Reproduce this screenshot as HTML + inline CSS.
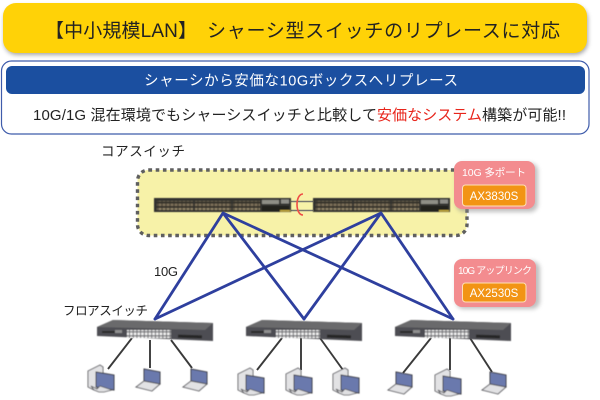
<!DOCTYPE html>
<html lang="ja"><head><meta charset="utf-8"><title>シャーシ型スイッチのリプレース</title>
<style>html,body{margin:0;padding:0;background:#fff}svg{display:block}
text{font-family:"Liberation Sans","Noto Sans CJK JP",sans-serif}</style></head>
<body>
<svg width="600" height="400" viewBox="0 0 600 400" xmlns="http://www.w3.org/2000/svg">
<defs>
<filter id="sh" x="-10%" y="-20%" width="125%" height="150%"><feGaussianBlur stdDeviation="2"/></filter>
<filter id="b" x="-5%" y="-5%" width="110%" height="110%"><feGaussianBlur stdDeviation="0.4"/></filter>
<pattern id="core" width="4" height="9" patternUnits="userSpaceOnUse">
<rect width="4" height="9" fill="#35322b"/>
<rect x="0.5" y="1" width="3" height="2.4" fill="#8f8266"/>
<rect x="0.5" y="5.6" width="3" height="2.4" fill="#7d7058"/>
</pattern>
<pattern id="fl" width="3.7" height="4" patternUnits="userSpaceOnUse">
<rect width="3.7" height="4" fill="#6a6a6e"/>
<rect x="0.5" y="0.5" width="2.7" height="2.8" fill="#f0f0f0"/>
</pattern>
<g id="coreSw" filter="url(#b)">
<rect x="0" y="0" width="137" height="14" fill="#33322e"/>
<rect x="3" y="3" width="36" height="9" fill="url(#core)"/>
<rect x="41" y="3" width="36" height="9" fill="url(#core)"/>
<rect x="79" y="3" width="27" height="9" fill="url(#core)"/>
<rect x="108" y="2" width="17" height="4" fill="#8f8f86"/>
<rect x="127" y="1.5" width="8" height="4" fill="#8e8e88"/>
<rect x="108" y="8" width="27" height="5" fill="#24241f"/>
<rect x="126" y="12" width="10" height="1.5" fill="#c6ac3c"/>
</g>
<g id="flSw" filter="url(#b)">
<polygon points="113,320 213,323 213,341 97,336 97,327" fill="#4e4e52"/>
<polygon points="113,320 213,323 205,330 97,327" fill="#6a6a6c"/>
<rect x="127" y="330" width="44" height="8" fill="url(#fl)"/>
<rect x="102" y="331" width="14" height="2" fill="#2a2a2a"/>
<rect x="178" y="335" width="24" height="3" fill="#262626" transform="rotate(2 190 336)"/>
<rect x="115" y="330" width="7" height="3" fill="#8f8f8f"/>
</g>
<g id="desk" filter="url(#b)">
<polygon points="0,6 12,0 15,2 15,20 6,25 0,22" fill="#e2e2e4" stroke="#55555a" stroke-width="0.9"/>
<polygon points="8,7 26,10 26,25 8,22" fill="#6a79ad" stroke="#3c3c42" stroke-width="1"/>
<polygon points="3,21 9,24 12,21 24,25 16,27 11,27 6,25" fill="#e0e0e2" stroke="#55555a" stroke-width="0.8"/>
</g>
<g id="lap" filter="url(#b)">
<polygon points="8,0 24,3 24,15 8,12" fill="#6a79ad" stroke="#3c3c42" stroke-width="1"/>
<polygon points="8,12 24,15 16,22 0,18" fill="#e2e2e4" stroke="#55555a" stroke-width="0.9"/>
</g>
</defs>

<!-- title -->
<rect x="4" y="6" width="584" height="49" rx="13" fill="#8a8a8a" opacity=".75" filter="url(#sh)"/>
<rect x="3" y="3" width="584" height="50" rx="13" fill="#ffd207"/>
<text x="45" y="37" font-size="19" fill="#222" textLength="152" lengthAdjust="spacing">【中小規模LAN】</text>
<text x="207" y="37" font-size="19" fill="#222" textLength="353" lengthAdjust="spacing">シャーシ型スイッチのリプレースに対応</text>

<!-- outline box -->
<rect x="1.5" y="61" width="587.5" height="73" rx="10" fill="#fff" stroke="#3f5cab" stroke-width="1.2"/>
<rect x="6" y="66" width="579" height="28" rx="6" fill="#1b4fa0"/>
<text x="144" y="85.5" font-size="14.5" fill="#fff" textLength="314" lengthAdjust="spacing">シャーシから安価な10Gボックスへリプレース</text>
<text x="33" y="120" font-size="15" fill="#222" textLength="344" lengthAdjust="spacing">10G/1G 混在環境でもシャーシスイッチと比較して</text>
<text x="377" y="120" font-size="15" fill="#e8251b" textLength="105" lengthAdjust="spacing">安価なシステム</text>
<text x="482" y="120" font-size="15" fill="#222" textLength="84" lengthAdjust="spacing">構築が可能!!</text>

<!-- core area -->
<rect x="137.5" y="170" width="329.5" height="65.5" rx="11" fill="#f7f2a8" stroke="#5f5f5f" stroke-width="3.4" stroke-dasharray="3.6 3.6"/>
<text x="101" y="156" font-size="13.5" fill="#222" textLength="84" lengthAdjust="spacing">コアスイッチ</text>

<!-- stack links -->
<path d="M291 201.5H313M291 210.5H313" stroke="#77776f" stroke-width="1.4" fill="none"/>
<use href="#coreSw" x="154" y="198"/>
<use href="#coreSw" x="313" y="198"/>
<path d="M303 194 C295 194 295 215 303 215" fill="none" stroke="#ef4d45" stroke-width="1.6"/>

<!-- blue links -->
<g stroke="#2e3f9e" stroke-width="2.8" fill="none" stroke-linecap="round">
<path d="M223 213L155 319M223 213L304 319M223 213L453 319"/>
<path d="M381 213L155 319M381 213L304 319M381 213L453 319"/>
</g>
<text x="154" y="276" font-size="13" fill="#222" textLength="24" lengthAdjust="spacing">10G</text>
<text x="63" y="315" font-size="12.5" fill="#222" textLength="85" lengthAdjust="spacing">フロアスイッチ</text>

<!-- badges -->
<rect x="456" y="163" width="82" height="49" rx="8" fill="#8b8b8b" opacity=".55" filter="url(#sh)"/>
<rect x="454" y="161" width="81" height="48" rx="8" fill="#f38c8f"/>
<text x="462" y="176" font-size="10.5" fill="#fff" textLength="64" lengthAdjust="spacing">10G 多ポート</text>
<rect x="462.5" y="185" width="63.5" height="21" rx="3" fill="#f29414" stroke="#fde0b8" stroke-width="1"/>
<text x="494" y="200" font-size="11.5" fill="#fff" text-anchor="middle">AX3830S</text>

<rect x="456" y="261" width="84" height="48" rx="8" fill="#8b8b8b" opacity=".55" filter="url(#sh)"/>
<rect x="454" y="259" width="82" height="48" rx="8" fill="#f38c8f"/>
<text x="458" y="274" font-size="10" fill="#fff" textLength="74" lengthAdjust="spacing">10G アップリンク</text>
<rect x="462.5" y="283" width="63.5" height="19" rx="3" fill="#f29414" stroke="#fde0b8" stroke-width="1"/>
<text x="494" y="297" font-size="11.5" fill="#fff" text-anchor="middle">AX2530S</text>

<!-- cables -->
<g stroke="#3a3a3a" stroke-width="1.9" fill="none">
<path d="M132 338L108 369M150 340V368M171 340L192 368"/>
<path d="M282 338L257 370M301 338V370M320 338L343 370"/>
<path d="M431 338L403 373M450 338V370M470 338L492 372"/>
</g>

<!-- floor switches -->
<use href="#flSw"/>
<use href="#flSw" x="149"/>
<use href="#flSw" x="298"/>

<!-- terminals -->
<use href="#desk" x="88" y="365"/>
<use href="#lap" x="136" y="369"/>
<use href="#lap" x="183" y="369"/>
<use href="#desk" x="238" y="368"/>
<use href="#desk" x="286" y="368"/>
<use href="#desk" x="333" y="368"/>
<use href="#lap" x="388" y="372"/>
<use href="#desk" x="435" y="369"/>
<use href="#lap" x="482" y="372"/>
</svg>
</body></html>
